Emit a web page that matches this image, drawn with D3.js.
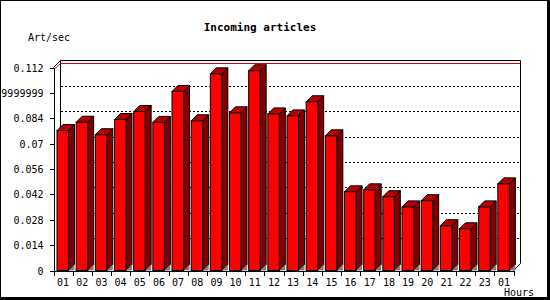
<!DOCTYPE html>
<html lang="en">
    <head>
        <meta charset="utf-8">
        <title>Incoming articles</title>
        <script type="text/javascript" src="https://cdn.jsdelivr.net/npm/d3@7/dist/d3.min.js"></script>
        <style type="text/css">
        body { margin: 0; }
        text { font-family: "DejaVu Sans Mono", monospace; font-size: 10px; fill: black; }
        .title { font-weight: bold; font-size: 11px; }
        .grid { stroke: black; stroke-dasharray: 2,2; shape-rendering: crispEdges; }
        .axis path, .axis line { stroke: black; shape-rendering: crispEdges; }
        </style>
    </head>
    <body>
        <script type="text/javascript">

            // data
            var hours = ["01","02","03","04","05","06","07","08","09","10","11","12",
                         "13","14","15","16","17","18","19","20","21","22","23","01"];
            var artPerSec = [0.0772, 0.0818, 0.0749, 0.0833, 0.0877, 0.0817, 0.0988, 0.0826,
                             0.1085, 0.0870, 0.1102, 0.0864, 0.0853, 0.0931, 0.0743, 0.0434,
                             0.0445, 0.0407, 0.0351, 0.0385, 0.0247, 0.0230, 0.0351, 0.0478];
            var yTickValues = [0, 0.014, 0.028, 0.042, 0.056, 0.07, 0.084, 0.098, 0.112];
            var yTickLabels = ["0","0.014","0.028","0.042","0.056","0.07","0.084","0.097999999999999","0.112"];

            var W = 550, H = 300;
            var depth = 7;      // 3d offset of the plot planes
            var barDepth = 6;   // 3d offset of each bar

            var svg = d3.select("body")
                        .append("svg")
                            .attr("width", W)
                            .attr("height", H);

            // frame with shadow
            svg.append("rect").attr("width", W).attr("height", H).attr("fill", "black");
            svg.append("rect").attr("x", 1).attr("y", 1).attr("width", 546).attr("height", 296).attr("fill", "white");

            var x = d3.scaleBand().domain(d3.range(hours.length)).range([53.5, 513.5]).padding(0);
            var y = d3.scaleLinear().domain([0, 0.112]).range([270.5, 67.5]);

            var x0 = x.range()[0], x1 = x.range()[1];
            var yb = y(0), yt = y(0.112);

            // back plane
            svg.append("path")
                .attr("d", "M" + (x0 + depth) + "," + (yb - depth) + "V" + (yt - depth) + "H" + (x1 + depth) + "V" + (yb - depth))
                .attr("fill", "none").attr("stroke", "black");

            // dotted grid on the back plane
            svg.selectAll(".grid")
                .data(yTickValues.filter(function(d){ return d > 0 && d < 0.112; }))
                .enter().append("line")
                    .attr("class", "grid")
                    .attr("x1", x0 + depth).attr("x2", x1 + depth)
                    .attr("y1", function(d){ return Math.round(y(d) - depth) + 0.5; })
                    .attr("y2", function(d){ return Math.round(y(d) - depth) + 0.5; });

            // red line under the top edge
            svg.append("path")
                .attr("d", "M" + (x0 + 0.5) + "," + (yt + 2) + "L" + (x0 + depth) + "," + (yt - depth + 3) + "H" + (x1 + depth - 0.5))
                .attr("fill", "none").attr("stroke", "#e00000");

            // corner diagonals
            svg.append("path")
                .attr("d", "M" + x0 + "," + yt + "L" + (x0 + depth) + "," + (yt - depth)
                      + "M" + x1 + "," + yb + "L" + (x1 + depth) + "," + (yb - depth))
                .attr("fill", "none").attr("stroke", "black");

            // bars
            var bw = 11.5, bo = 3.5, d = barDepth;
            var bars = svg.selectAll(".bar")
                .data(artPerSec)
                .enter().append("g")
                    .attr("class", "bar");

            bars.append("polygon")
                .attr("points", function(v, i) {
                    var l = x(i) + bo, r = l + bw, t = y(v);
                    return [[r, t], [r + d, t - d], [r + d, yb - d], [r, yb]].join(" ");
                })
                .attr("fill", "#800000").attr("stroke", "black");
            bars.append("polygon")
                .attr("points", function(v, i) {
                    var r = x(i) + bo + bw;
                    return [[r, yb], [r + d, yb - d], [r + d, yb]].join(" ");
                })
                .attr("fill", "#808080").attr("stroke", "none");
            bars.append("polygon")
                .attr("points", function(v, i) {
                    var l = x(i) + bo, r = l + bw, t = y(v);
                    return [[l, t], [l + d, t - d], [r + d, t - d], [r, t]].join(" ");
                })
                .attr("fill", "#b80000").attr("stroke", "black");
            bars.append("rect")
                .attr("x", function(v, i){ return x(i) + bo; })
                .attr("y", function(v){ return y(v); })
                .attr("width", bw)
                .attr("height", function(v){ return yb - y(v); })
                .attr("fill", "#ff0000").attr("stroke", "black");

            // y axis
            var yAxis = d3.axisLeft(y)
                .tickValues(yTickValues)
                .tickSize(4)
                .tickSizeOuter(0)
                .tickPadding(6)
                .tickFormat(function(d, i){ return yTickLabels[i]; });
            svg.append("g")
                .attr("class", "axis")
                .attr("transform", "translate(" + x0 + ",0)")
                .call(yAxis)
                .selectAll("text").attr("dy", "0.35em");

            // x axis: labels at band centres, ticks at band edges
            var xAxis = d3.axisBottom(x)
                .tickSize(0)
                .tickPadding(8)
                .tickFormat(function(i){ return hours[i]; });
            svg.append("g")
                .attr("class", "axis")
                .attr("transform", "translate(0," + yb + ")")
                .call(xAxis);

            svg.selectAll(".xtick")
                .data(d3.range(hours.length + 1))
                .enter().append("line")
                    .attr("class", "xtick")
                    .attr("x1", function(i){ return Math.round(x0 + i * x.bandwidth()) + 0.5; })
                    .attr("x2", function(i){ return Math.round(x0 + i * x.bandwidth()) + 0.5; })
                    .attr("y1", yb).attr("y2", yb + 5)
                    .attr("stroke", "black").style("shape-rendering", "crispEdges");

            // texts
            svg.append("text")
                .attr("class", "title")
                .attr("x", 260).attr("y", 31)
                .attr("text-anchor", "middle")
                .text("Incoming articles");
            svg.append("text")
                .attr("x", 28).attr("y", 41)
                .text("Art/sec");
            svg.append("text")
                .attr("x", 504).attr("y", 296)
                .text("Hours");
        </script>
    </body>
</html>
